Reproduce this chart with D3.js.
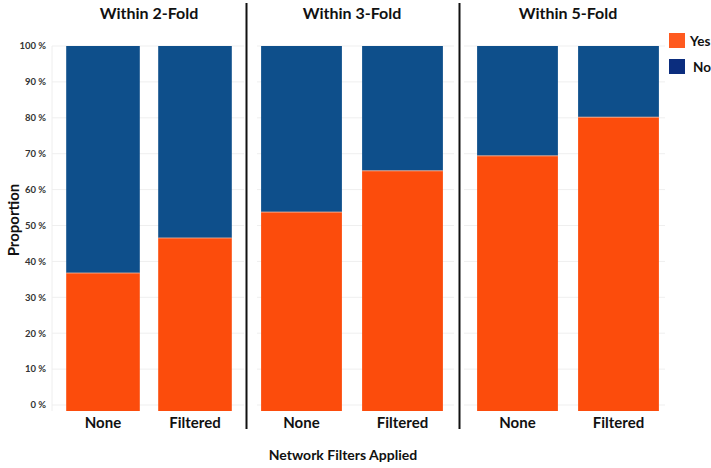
<!DOCTYPE html>
<html><head><meta charset="utf-8">
<script src="https://cdn.jsdelivr.net/npm/d3@7"></script>
<style>body{margin:0;background:#fff}svg{display:block;font-family:Lato,"Open Sans",sans-serif}</style>
</head><body><svg id="c" width="711" height="468"></svg>
<script>
const panels = ["Within 2-Fold", "Within 3-Fold", "Within 5-Fold"];
const categories = ["None", "Filtered"];
const yesValues = [[0.378, 0.474], [0.545, 0.658], [0.699, 0.805]];
const seriesNames = ["Yes", "No"];
const tickValues = [0, 0.1, 0.2, 0.3, 0.4, 0.5, 0.6, 0.7, 0.8, 0.9, 1.0];
const tickLabels = ["0 %", "10 %", "20 %", "30 %", "40 %", "50 %", "60 %", "70 %", "80 %", "90 %", "100 %"];

const colors = {Yes: "#fc4c0c", No: "#0e4f8b"};
const legendColors = {Yes: "#ff5a1f", No: "#0b2d7e"};
const svg = d3.select("#c");
const y = d3.scaleLinear().domain([0, 1]).range([411, 46]);
const yTick = d3.scaleLinear().domain([0, 1]).range([405, 46]);
const panelRanges = [[57, 241], [251, 453], [467, 669]];
const gridRange = [[52, 244], [257, 454], [464, 665]];

// gridlines
panels.forEach((p, i) => {
  svg.append("g").selectAll("line").data(tickValues).join("line")
    .attr("x1", gridRange[i][0]).attr("x2", gridRange[i][1])
    .attr("y1", d => yTick(d)).attr("y2", d => yTick(d))
    .attr("stroke", "#efefef").attr("stroke-width", 1);
});
svg.append("line").attr("x1", 52).attr("x2", 52).attr("y1", 46).attr("y2", 411)
  .attr("stroke", "#eeeeee");

// y tick labels
svg.append("g").selectAll("text").data(tickValues).join("text")
  .attr("x", 46).attr("y", d => yTick(d)).attr("dy", "0.35em")
  .attr("text-anchor", "end").attr("font-size", 9.5).attr("font-weight", 700)
  .attr("fill", "#333").text((d, i) => tickLabels[i]);

// y title
svg.append("text").attr("transform", "translate(19,220) rotate(-90)")
  .attr("text-anchor", "middle").attr("font-size", 15).attr("font-weight", 700)
  .attr("fill", "#111").text("Proportion");

panels.forEach((p, i) => {
  const x = d3.scaleBand().domain(categories).range(panelRanges[i]).paddingInner(0.2).paddingOuter(0.1);
  const g = svg.append("g");
  const data = categories.map((c, j) => ({c, yes: yesValues[i][j]}));
  g.selectAll("rect.no").data(data).join("rect")
    .attr("x", d => x(d.c)).attr("width", x.bandwidth())
    .attr("y", y(1)).attr("height", d => y(d.yes) - y(1))
    .attr("fill", colors.No);
  g.selectAll("rect.yes").data(data).join("rect")
    .attr("x", d => x(d.c)).attr("width", x.bandwidth())
    .attr("y", d => y(d.yes)).attr("height", d => y(0) - y(d.yes))
    .attr("fill", colors.Yes);
  g.selectAll("line.b").data(data).join("line")
    .attr("x1", d => x(d.c)).attr("x2", d => x(d.c) + x.bandwidth())
    .attr("y1", d => y(d.yes)).attr("y2", d => y(d.yes))
    .attr("stroke", "#f5b9a0").attr("stroke-width", 0.8);
  g.selectAll("text.cat").data(categories).join("text")
    .attr("x", d => x(d) + x.bandwidth() / 2).attr("y", 428)
    .attr("text-anchor", "middle").attr("font-size", 15).attr("font-weight", 700)
    .attr("fill", "#111").text(d => d);
  svg.append("text").attr("x", (panelRanges[i][0] + panelRanges[i][1]) / 2).attr("y", 19)
    .attr("text-anchor", "middle").attr("font-size", 16).attr("font-weight", 700)
    .attr("fill", "#111").text(p);
});

// separators
[246.5, 459.5].forEach(sx => {
  svg.append("line").attr("x1", sx).attr("x2", sx).attr("y1", 3).attr("y2", 429)
    .attr("stroke", "#111").attr("stroke-width", 2);
});

// x title
svg.append("text").attr("x", 343).attr("y", 460).attr("text-anchor", "middle")
  .attr("font-size", 14).attr("font-weight", 700).attr("fill", "#111")
  .text("Network Filters Applied");

// legend
const lg = svg.append("g").selectAll("g").data(seriesNames).join("g")
  .attr("transform", (d, i) => `translate(669,${33 + i * 26})`);
lg.append("rect").attr("width", 16).attr("height", 15).attr("fill", d => legendColors[d]);
lg.append("text").attr("x", d => d === "Yes" ? 21 : 24).attr("y", 13)
  .attr("font-size", 13.5).attr("font-weight", 700).attr("fill", "#111").text(d => d);
</script></body></html>
